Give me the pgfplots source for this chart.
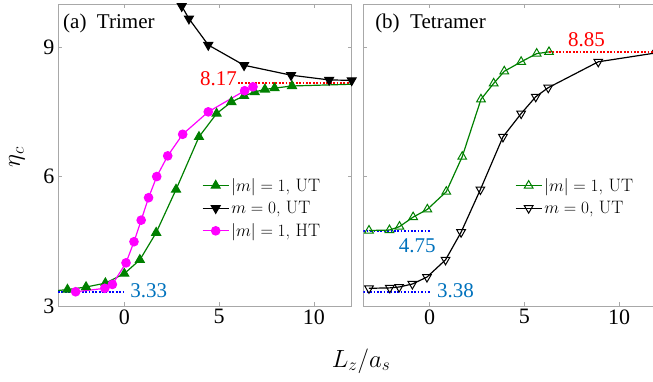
\documentclass[border=0pt]{standalone}
\usepackage{fontspec}
\usepackage{pgfplots}
\pgfplotsset{compat=1.18}
\newfontfamily\tnr{Liberation Serif}
\definecolor{mgreen}{rgb}{0,0.5,0}
\definecolor{mmag}{rgb}{1,0,1}
\definecolor{mred}{rgb}{1,0,0}
\definecolor{mblue}{rgb}{0,0,1}
\definecolor{lblue}{rgb}{0,0.447,0.741}
\definecolor{frame}{rgb}{0.66,0.66,0.66}
\pgfplotsset{panel/.style={scale only axis, width=293.7pt, height=302pt,
  xmin=-3.5, xmax=12, ymin=3, ymax=10, xtick={0,5,10}, ytick={3,6,9},
  tick align=inside, major tick length=4pt,
  axis line style={frame, line width=0.8pt},
  every tick/.style={frame, line width=0.6pt},
  tick label style={font=\tnr\fontsize{22}{22}\selectfont},
  /pgf/number format/assume math mode=true,
  legend style={draw=none, fill=none, font=\fontsize{18}{18}\selectfont,
    row sep=4.5pt, inner sep=0pt, cells={anchor=west}},
  legend cell align=left},
  refline/.style={forget plot, line width=1.9pt, dash pattern=on 1.7pt off 1.7pt}}
\begin{document}
\begin{tikzpicture}[x=1pt,y=1pt]
\begin{axis}[panel, at={(58pt,75pt)}, anchor=south west,
  ylabel={$\eta_c$}, ylabel style={font=\fontsize{26}{26}\selectfont, at={(axis description cs:-0.14,0.493)}, anchor=center},
  xlabel={$L_z/a_s$}, xlabel style={font=\fontsize{25}{25}\selectfont, at={(axis description cs:1.032,-0.182)}, anchor=center},
  legend style={at={(axis description cs:0.49,0.43)}, anchor=north west},
  legend image code/.code={\draw[#1, mark indices={2}] plot coordinates {(0pt,0pt) (13pt,0pt) (26pt,0pt)};}]
\addplot[refline, color=mblue] coordinates {(-3.5,3.33) (0,3.33)};
\addplot[refline, color=mred] coordinates {(6.0,8.17) (12,8.17)};
\addplot[mgreen, line width=1.2pt, mark=triangle*, mark size=5pt, mark options={solid, fill=mgreen}, mark indices={2,...,16}] coordinates {
(-3.5,3.36) (-3.0,3.38) (-2.02,3.44) (-1.0,3.53) (0.0,3.75) (0.82,4.07) (1.68,4.70) (2.73,5.70) (3.94,6.92) (4.87,7.46) (5.65,7.73) (6.32,7.87) (6.88,7.96) (7.42,8.02) (7.93,8.05) (8.85,8.10) (12,8.14)};
\addlegendentry{$|m|=1$, UT}
\addplot[black, line width=1.2pt, mark=triangle*, mark size=5pt, mark options={solid, fill=black, rotate=180}, mark indices={1,...,7}] coordinates {
(2.6,10.6) (3.03,9.95) (3.41,9.66) (4.43,9.05) (6.32,8.58) (8.80,8.35) (10.81,8.24) (12,8.23)};
\addlegendentry{$m=0$, UT}
\addplot[mmag, line width=1.2pt, mark=*, mark size=4.2pt, mark options={solid, fill=mmag}] coordinates {
(-2.57,3.33) (-1.03,3.41) (-0.63,3.50) (0.09,4.0) (0.51,4.49) (0.89,4.99) (1.28,5.51) (1.71,6.0) (2.29,6.48) (3.08,6.98) (4.43,7.50) (6.35,7.99) (6.79,8.08)};
\addlegendentry{$|m|=1$, HT}
\node[font=\tnr\fontsize{21}{21}\selectfont, anchor=west, inner sep=0pt] at (axis description cs:0.017,0.937) {(a)\ \ Trimer};
\node[font=\tnr\fontsize{21}{21}\selectfont, text=lblue, anchor=west, inner sep=1pt] at (axis cs:0.25,3.36) {3.33};
\node[font=\tnr\fontsize{21}{21}\selectfont, text=mred, anchor=east, inner sep=1pt] at (axis cs:6.0,8.28) {8.17};
\end{axis}
\begin{axis}[panel, at={(363.3pt,75pt)}, anchor=south west, yticklabels={},
  legend style={at={(axis description cs:0.516,0.43)}, anchor=north west},
  legend image code/.code={\draw[#1, mark indices={2}] plot coordinates {(0pt,0pt) (13pt,0pt) (26pt,0pt)};}]
\addplot[refline, color=mblue] coordinates {(-3.5,4.74) (0,4.74)};
\addplot[refline, color=mblue] coordinates {(-3.5,3.33) (0,3.33)};
\addplot[refline, color=mred] coordinates {(6.3,8.88) (12,8.88)};
\addplot[mgreen, line width=1.2pt, mark=triangle, mark size=5pt, mark options={solid, fill=white, line width=1pt}] coordinates {
(-3.2,4.75) (-2.12,4.76) (-1.59,4.84) (-0.87,5.06) (-0.12,5.24) (0.88,5.65) (1.72,6.46) (2.71,7.79) (3.38,8.16) (3.94,8.44) (4.83,8.66) (5.65,8.85) (6.30,8.89)};
\addlegendentry{$|m|=1$, UT}
\addplot[black, line width=1.2pt, mark=triangle, mark size=5pt, mark options={solid, fill=white, rotate=180, line width=1pt}] coordinates {
(-3.2,3.41) (-2.1,3.42) (-1.61,3.44) (-0.91,3.51) (-0.14,3.67) (0.84,4.07) (1.66,4.71) (2.68,5.70) (3.87,6.92) (4.83,7.46) (5.60,7.85) (6.26,8.06) (8.9,8.66) (12,8.87)};
\addlegendentry{$m=0$, UT}
\node[font=\tnr\fontsize{21}{21}\selectfont, anchor=west, inner sep=0pt] at (axis description cs:0.04,0.937) {(b)\ \ Tetramer};
\node[font=\tnr\fontsize{21}{21}\selectfont, text=mred] at (axis cs:8.28,9.18) {8.85};
\node[font=\tnr\fontsize{21}{21}\selectfont, text=lblue] at (axis cs:-0.65,4.40) {4.75};
\node[font=\tnr\fontsize{21}{21}\selectfont, text=lblue, anchor=west, inner sep=1pt] at (axis cs:0.33,3.36) {3.38};
\end{axis}
\pgfresetboundingbox
\path (0pt,0pt) rectangle (653pt,381pt);
\end{tikzpicture}
\end{document}
